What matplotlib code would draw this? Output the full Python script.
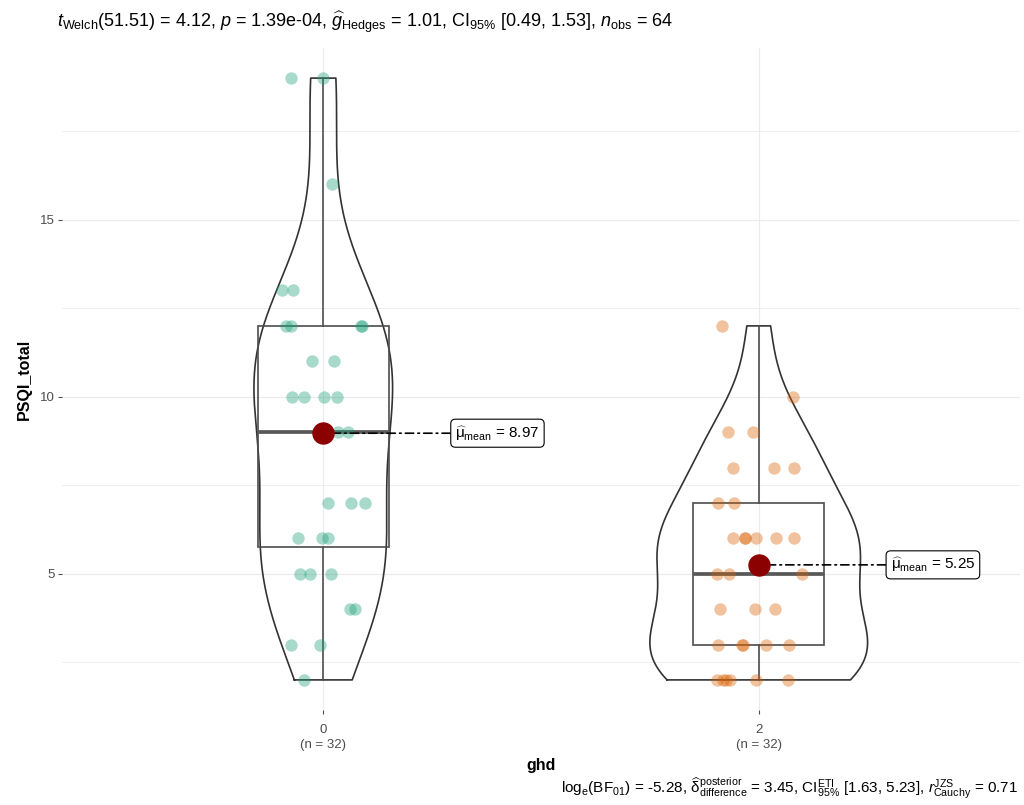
#PSQI_total by ghd group: violin + box + jittered points (ggbetweenstats look)
import numpy as np
import matplotlib.pyplot as plt

plt.rcParams['font.family'] = ['Liberation Sans', 'DejaVu Sans']
plt.rcParams['mathtext.fontset'] = 'custom'
plt.rcParams['mathtext.rm'] = 'Liberation Sans'
plt.rcParams['mathtext.it'] = 'Liberation Sans:italic'
plt.rcParams['mathtext.bf'] = 'Liberation Sans:bold'

#data
groups = ['0', '2']
psqi_ghd0 = [19, 19, 16, 13, 13, 12, 12, 12, 12, 11, 11, 10, 10, 10, 10, 9, 9, 9,
             7, 7, 7, 6, 6, 6, 5, 5, 5, 4, 4, 3, 3, 2]
psqi_ghd2 = [12, 10, 9, 9, 8, 8, 8, 7, 7, 6, 6, 6, 6, 6, 6, 5, 5, 5,
             4, 4, 4, 3, 3, 3, 3, 3, 2, 2, 2, 2, 2, 2]
colors = ['#1B9E77', '#D95F02']

title = (r'$t_{\mathrm{Welch}}$(51.51) = 4.12, $p$ = 1.39e-04, '
         r'$\widehat{g}_{\mathrm{Hedges}}$ = 1.01, CI$_{95\%}$ [0.49, 1.53], '
         r'$n_{\mathrm{obs}}$ = 64')
caption = (r'log$_{\mathrm{e}}$(BF$_{01}$) = -5.28, '
           r'$\widehat{\mathrm{\delta}}_{\mathrm{difference}}^{\mathrm{posterior}}$ = 3.45, '
           r'CI$_{95\%}^{\mathrm{ETI}}$ [1.63, 5.23], '
           r'$r_{\mathrm{Cauchy}}^{\mathrm{JZS}}$ = 0.71')

data = [np.array(psqi_ghd0, float), np.array(psqi_ghd2, float)]


#R's bw.nrd0 and a plain gaussian kde
def nrd0(x):
    sd = x.std(ddof=1)
    q75, q25 = np.percentile(x, [75, 25])
    return 0.9 * min(sd, (q75 - q25) / 1.34) * len(x) ** -0.2


def kde(x, grid):
    bw = nrd0(x)
    z = (grid[:, None] - x[None, :]) / bw
    return np.exp(-0.5 * z**2).sum(1) / (len(x) * bw * np.sqrt(2 * np.pi))


fig = plt.figure(figsize=(10.24, 8.05), dpi=100)
ax = fig.add_axes([62/1024, 1-710/805, (1020-62)/1024, (710-48)/805])

#violins (trimmed, scale = area)
dens = []
for d in data:
    grid = np.linspace(d.min(), d.max(), 512)
    dens.append((grid, kde(d, grid)))
dmax = max(k.max() for _, k in dens)
for i, (grid, k) in enumerate(dens):
    pos = i + 1
    hw = k / dmax * 0.25
    xs = np.concatenate([pos - hw, (pos + hw)[::-1], [pos - hw[0]]])
    ys = np.concatenate([grid, grid[::-1], [grid[0]]])
    ax.plot(xs, ys, color='#333333', lw=1.2, zorder=2)

#boxes
ax.boxplot(data, positions=[1, 2], widths=0.3, showcaps=False, showfliers=False,
           patch_artist=True, manage_ticks=False,
           boxprops=dict(facecolor='none', edgecolor='#4D4D4D', lw=1.2),
           whiskerprops=dict(color='#4D4D4D', lw=1.2),
           medianprops=dict(color='#595959', lw=2.7), zorder=3)

#jittered points
rng = np.random.default_rng(11)
for i, d in enumerate(data):
    jit = rng.uniform(-0.1, 0.1, len(d))
    ax.scatter(i + 1 + jit, d, s=80, color=colors[i], alpha=0.38, linewidths=0, zorder=4)

#means with labels
for i, d in enumerate(data):
    m = d.mean()
    ax.annotate(r'$\widehat{\mathrm{\mu}}_{\mathrm{mean}}$ = %.2f' % m,
                xy=(i + 1, m), xytext=(i + 1.4, m), ha='center', va='center',
                fontsize=11, zorder=6,
                bbox=dict(boxstyle='round,pad=0.3,rounding_size=0.3', fc='white',
                          ec='black', lw=0.8),
                arrowprops=dict(arrowstyle='-', color='black', lw=1.2,
                                linestyle=(0, (5, 2.5, 1, 2.5)),
                                shrinkA=0, shrinkB=0))
    ax.scatter(i + 1, m, s=260, color='#8B0000', linewidths=0, zorder=7)

ax.set_xlim(0.4, 2.6)
ax.set_ylim(1.15, 19.85)
ax.set_xticks([1, 2])
ax.set_xticklabels(['%s\n(n = %d)' % (g, len(d)) for g, d in zip(groups, data)],
                   linespacing=1.35)
ax.set_yticks([5, 10, 15])
ax.set_yticks([2.5, 7.5, 12.5, 17.5], minor=True)
ax.grid(which='major', color='#EBEBEB', lw=0.8)
ax.grid(which='minor', axis='y', color='#EBEBEB', lw=0.6)
ax.set_axisbelow(True)
for s in ax.spines.values():
    s.set_visible(False)
ax.tick_params(which='major', length=3, color='#4D4D4D', labelcolor='#4D4D4D',
               labelsize=9.5, pad=2)
ax.tick_params(axis='x', which='major', pad=7)
ax.tick_params(which='minor', length=0)
ax.set_xlabel('ghd', fontsize=11.5, fontweight='bold', labelpad=5)
ax.set_ylabel('PSQI_total', fontsize=11.5, fontweight='bold', labelpad=6)

fig.text(57/1024, 1-22/805, title, ha='left', va='center', fontsize=13)
fig.text(1018/1024, 1-788/805, caption, ha='right', va='center', fontsize=11)

fig.savefig('out.png', dpi=100)
